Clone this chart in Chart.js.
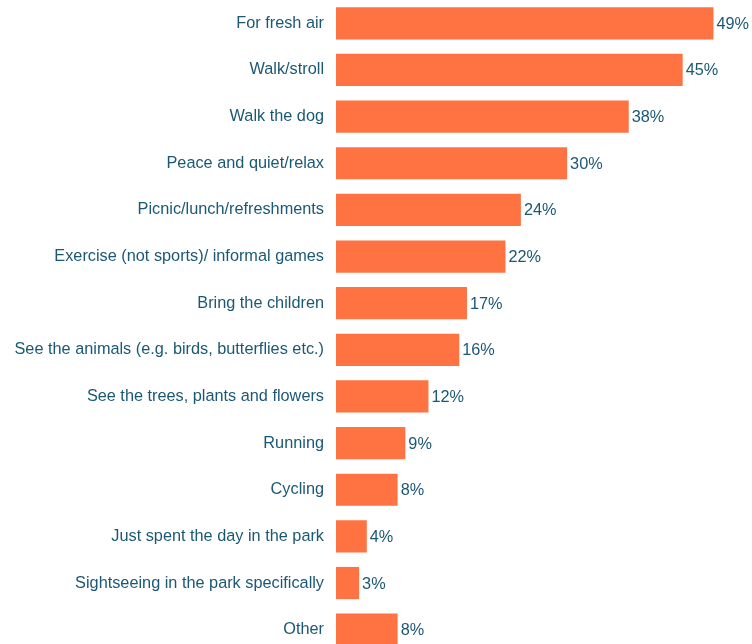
<!DOCTYPE html>
<html>
<head>
<meta charset="utf-8">
<script src="https://cdn.jsdelivr.net/npm/chart.js@4.4.0/dist/chart.umd.min.js"></script>
<style>
    html, body { margin: 0; padding: 0; background: #fff; overflow: hidden; }
</style>
</head>
<body>
<canvas id="myChart" width="752" height="653"></canvas>
<script>
const motivos = [
    'For fresh air',
    'Walk/stroll',
    'Walk the dog',
    'Peace and quiet/relax',
    'Picnic/lunch/refreshments',
    'Exercise (not sports)/ informal games',
    'Bring the children',
    'See the animals (e.g. birds, butterflies etc.)',
    'See the trees, plants and flowers',
    'Running',
    'Cycling',
    'Just spent the day in the park',
    'Sightseeing in the park specifically',
    'Other'
];
const porcentajes = [49, 45, 38, 30, 24, 22, 17, 16, 12, 9, 8, 4, 3, 8];

const colorTexto = '#1b5874';
const fuente = { family: 'Liberation Sans, Arial, sans-serif', size: 16.3 };

// etiquetas de valor a la derecha de cada barra
const etiquetas = {
    id: 'etiquetas',
    afterDatasetsDraw(chart) {
        const ctx = chart.ctx;
        const meta = chart.getDatasetMeta(0);
        ctx.save();
        ctx.fillStyle = colorTexto;
        ctx.font = fuente.size + 'px ' + fuente.family;
        ctx.textAlign = 'left';
        ctx.textBaseline = 'middle';
        meta.data.forEach((bar, i) => {
            ctx.fillText(porcentajes[i] + '%', bar.x + 3, bar.y + 1);
        });
        ctx.restore();
    }
};

var ctx = document.getElementById('myChart').getContext('2d');
var myChart = new Chart(ctx, {
    type: 'bar',
    data: {
        labels: motivos,
        datasets: [{
            data: porcentajes,
            backgroundColor: '#ff7342',
            barPercentage: 0.69,
            categoryPercentage: 1
        }]
    },
    options: {
        indexAxis: 'y',
        responsive: false,
        animation: false,
        layout: { padding: 0 },
        plugins: {
            legend: { display: false },
            tooltip: { enabled: false }
        },
        scales: {
            x: {
                display: false,
                min: 0,
                max: 54
            },
            y: {
                afterFit: (scale) => {
                    scale.width = 336;
                    scale.paddingTop = 0;
                    scale.paddingBottom = 0;
                },
                grid: { display: false, drawTicks: false },
                border: { display: false },
                ticks: {
                    color: colorTexto,
                    font: fuente,
                    padding: 12,
                    autoSkip: false
                }
            }
        }
    },
    plugins: [etiquetas]
});
</script>
</body>
</html>
